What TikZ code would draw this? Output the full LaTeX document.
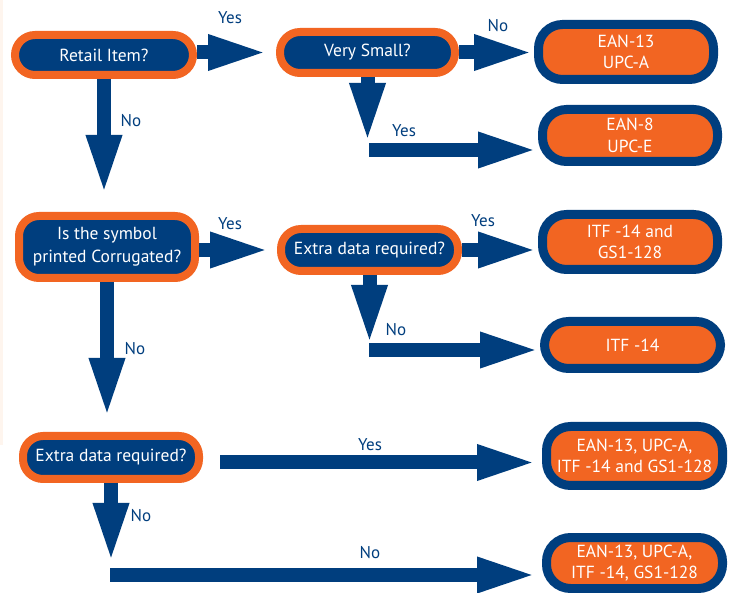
\documentclass[tikz,border=0pt]{standalone}
\usepackage{fontspec}
\setmainfont{PT Sans}
\usetikzlibrary{arrows.meta}
\definecolor{navy}{HTML}{003E7E}
\definecolor{orng}{HTML}{F26522}
\definecolor{peach}{HTML}{FEF5EE}
\begin{document}
\begin{tikzpicture}[x=1pt,y=-1pt,
  qbox/.style={draw=orng, line width=8pt, fill=navy, text=white, rounded corners=20pt,
    align=center, inner sep=0pt, font=\fontsize{17.5}{23}\selectfont},
  rbox/.style={draw=navy, line width=9pt, fill=orng, text=white, rounded corners=24pt,
    align=center, inner sep=0pt, font=\fontsize{17.5}{21.5}\selectfont},
  arr/.style={draw=navy, line width=14pt, -{Triangle[length=60pt,width=32pt]}},
  lbl/.style={text=navy, inner sep=0pt, font=\fontsize{17}{19}\selectfont}]
\fill[white] (0,0) rectangle (734,593);
\fill[peach] (0,0) rectangle (2.5,445);
\useasboundingbox (0,0) rectangle (734,593);

% question nodes
\node[qbox, minimum width=178pt, minimum height=40pt] (retail) at (104,55) {Retail Item?};
\node[qbox, minimum width=175pt, minimum height=41pt] (vs) at (367.5,52.5) {Very Small?};
\node[qbox, minimum width=176pt, minimum height=62pt] (corr) at (107,247) {Is the symbol\\printed Corrugated?};
\node[qbox, minimum width=177pt, minimum height=42pt] (ex2) at (369.5,250) {Extra data required?};
\node[qbox, minimum width=176pt, minimum height=43pt] (ex3) at (111,457.5) {Extra data required?};

% result nodes
\node[rbox, minimum width=175pt, minimum height=55pt] (ean13) at (626,52) {EAN-13\\UPC-A};
\node[rbox, minimum width=175pt, minimum height=52pt] (ean8) at (630,135.5) {EAN-8\\UPC-E};
\node[rbox, minimum width=175pt, minimum height=55pt] (itfa) at (630,242) {ITF -14 and\\GS1-128};
\node[rbox, minimum width=176pt, minimum height=47pt] (itf) at (632.5,345) {ITF -14};
\node[rbox, minimum width=176pt, minimum height=59pt] (big1) at (634.5,456) {EAN-13, UPC-A,\\ITF -14 and GS1-128};
\node[rbox, minimum width=176pt, minimum height=51pt] (big2) at (634.5,563) {EAN-13, UPC-A,\\ITF -14, GS1-128};

% turning points
\coordinate (t1) at (367,143);
\coordinate (h1) at (369,150);
\coordinate (t2) at (367,345);
\coordinate (h2) at (369,350);
\coordinate (y3) at (0,462.5);
\coordinate (t3) at (109,563);
\coordinate (h3) at (110,575);

% connectors
\draw[arr] (retail.east |- vs.west) -- ([xshift=-8pt]vs.west);
\draw[arr] (vs.east) -- (vs.east -| ean13.west);
\draw[arr, shorten >=17pt] (retail.south) -- (retail.south |- corr.north);
\draw[arr] (vs.south) -- (vs.south |- t1);
\draw[arr] (h1) -- (h1 -| ean8.west);
\draw[arr] (corr.east |- ex2.west) -- ([xshift=-7pt]ex2.west);
\draw[arr] (ex2.east) -- (ex2.east -| itfa.west);
\draw[arr, shorten >=14pt] (corr.south) -- (corr.south |- ex3.north);
\draw[arr] (ex2.south) -- (ex2.south |- t2);
\draw[arr] (h2) -- (h2 -| itf.west);
\draw[arr, shorten <=17pt, shorten >=5pt] (ex3.east |- y3) -- (big1.west |- y3);
\draw[arr] (ex3.south) -- (ex3.south |- t3);
\draw[arr, shorten >=5pt] (h3) -- (h3 -| big2.west);

% labels
\node[lbl] (l1) at (230,18) {Yes};
\node[lbl] (l2) at (131,121) {No};
\node[lbl] (l3) at (498,26) {No};
\node[lbl] (l4) at (404,131) {Yes};
\node[lbl] (l5) at (230,224) {Yes};
\node[lbl] (l6) at (483,221) {Yes};
\node[lbl] (l7) at (135,349) {No};
\node[lbl] (l8) at (396,330) {No};
\node[lbl] (l9) at (370,445) {Yes};
\node[lbl] (l10) at (141,516) {No};
\node[lbl] (l11) at (370,553) {No};
\end{tikzpicture}
\end{document}
